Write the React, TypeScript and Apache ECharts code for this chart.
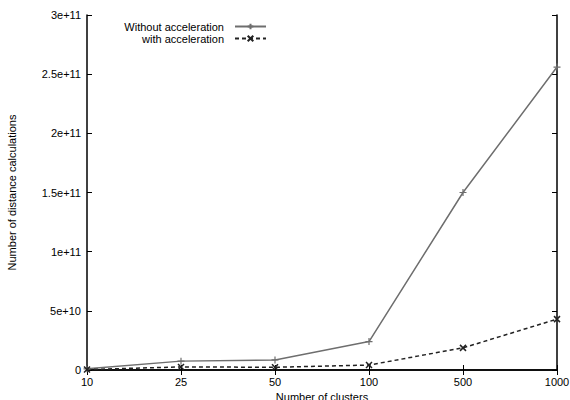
import React, { useEffect, useRef } from "react";
import * as echarts from "echarts";

const categories = ["10", "25", "50", "100", "500", "1000"];
const withoutAccel = [1.0e9, 7.5e9, 8.5e9, 2.4e10, 1.5e11, 2.56e11];
const withAccel = [0.4e9, 2.6e9, 2.3e9, 4.2e9, 1.87e10, 4.3e10];
const yTickLabels = ["0", "5e+10", "1e+11", "1.5e+11", "2e+11", "2.5e+11", "3e+11"];

const PLUS = "path://M0,5 L10,5 M5,0 L5,10";
const CROSS = "path://M0,0 L10,10 M10,0 L0,10";
const FONT = "Liberation Sans";

export default function App() {
  const ref = useRef<HTMLDivElement>(null);
  useEffect(() => {
    const chart = echarts.init(ref.current!, null, { renderer: "svg" });
    const axisLine = { show: true, lineStyle: { color: "#000", width: 1.5 } };
    const tickStyle = { show: true, inside: true, length: 5, lineStyle: { color: "#000", width: 1 } };
    const legendCommon = {
      right: 303,
      align: "right",
      itemWidth: 31,
      itemHeight: 7,
      itemGap: 0,
      padding: 0,
      textStyle: { fontFamily: FONT, fontSize: 11, color: "#000", padding: [0, 6, 0, 0] },
    };
    chart.setOption({
      animation: false,
      backgroundColor: "#fff",
      textStyle: { fontFamily: FONT },
      grid: { left: 87, right: 13, top: 15, bottom: 30, containLabel: false, outerBoundsMode: "none" },
      legend: [
        { ...legendCommon, data: ["Without acceleration"], top: 21 },
        { ...legendCommon, data: ["with acceleration"], top: 33 },
      ],
      xAxis: [
        {
          type: "category",
          data: categories,
          boundaryGap: false,
          name: "Number of clusters",
          nameLocation: "middle",
          nameGap: 19,
          nameTextStyle: { fontFamily: FONT, fontSize: 11, color: "#000" },
          axisLine,
          axisTick: { ...tickStyle, alignWithLabel: true },
          axisLabel: { fontFamily: FONT, fontSize: 11, color: "#000", margin: 6 },
          splitLine: { show: false },
        },
        {
          type: "category",
          data: categories,
          boundaryGap: false,
          position: "top",
          axisLine,
          axisTick: tickStyle,
          axisLabel: { show: false },
          splitLine: { show: false },
        },
      ],
      yAxis: [
        {
          type: "value",
          min: 0,
          max: 3e11,
          interval: 5e10,
          name: "Number of distance calculations",
          nameLocation: "middle",
          nameGap: 70,
          nameTextStyle: { fontFamily: FONT, fontSize: 11, color: "#000" },
          axisLine,
          axisTick: tickStyle,
          axisLabel: {
            fontFamily: FONT,
            fontSize: 11,
            color: "#000",
            margin: 6,
            formatter: (v: number) => yTickLabels[Math.round(v / 5e10)] ?? "",
          },
          splitLine: { show: false },
        },
        {
          type: "value",
          min: 0,
          max: 3e11,
          interval: 5e10,
          position: "right",
          axisLine,
          axisTick: tickStyle,
          axisLabel: { show: false },
          splitLine: { show: false },
        },
      ],
      series: [
        {
          name: "Without acceleration",
          type: "line",
          data: withoutAccel,
          symbol: PLUS,
          symbolSize: 7,
          lineStyle: { color: "#6e6e6e", width: 1.5 },
          itemStyle: { color: "#6e6e6e", borderColor: "#6e6e6e", borderWidth: 1.2 },
        },
        {
          name: "with acceleration",
          type: "line",
          data: withAccel,
          symbol: CROSS,
          symbolSize: 6,
          lineStyle: { color: "#222", width: 1.5, type: [4, 3] },
          itemStyle: { color: "#222", borderColor: "#222", borderWidth: 1.5 },
        },
      ],
    });
    return () => chart.dispose();
  }, []);
  return <div ref={ref} style={{ width: 570, height: 400, position: "absolute", left: 0, top: 0 }} />;
}
